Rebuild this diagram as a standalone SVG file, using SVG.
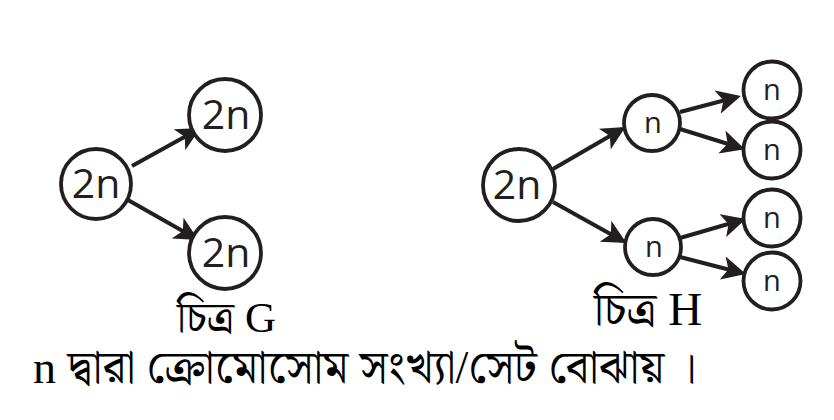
<svg xmlns="http://www.w3.org/2000/svg" width="834" height="420" viewBox="0 0 834 420">
<style>
.node circle{fill:#fff;stroke:#231f20;stroke-width:3.8}
.big{font-family:"Open Sans","Noto Sans","DejaVu Sans",sans-serif;font-size:41px;fill:#231f20;text-anchor:middle}
.sm{font-family:"Open Sans","Noto Sans","DejaVu Sans",sans-serif;font-size:29px;fill:#231f20;text-anchor:middle}
.edge line{stroke:#231f20;stroke-width:4}
.lbl{font-family:"Liberation Serif","Noto Serif Bengali","Noto Sans Bengali",serif;fill:#000}
</style>
<defs>
<marker id="ah" markerWidth="6" markerHeight="6" refX="5" refY="3" orient="auto" markerUnits="strokeWidth" viewBox="0 0 6 6">
<path d="M0,0 L6,3 L0,6 L1.5,3 z" fill="#231f20"/>
</marker>
</defs>
<rect width="834" height="420" fill="#fff"/>
<g id="connectors" class="edge">
<line x1="132" y1="166" x2="197" y2="130" marker-end="url(#ah)"/>
<line x1="128" y1="200" x2="195" y2="238" marker-end="url(#ah)"/>
<line x1="553" y1="169" x2="622" y2="129" marker-end="url(#ah)"/>
<line x1="553" y1="202" x2="623" y2="241" marker-end="url(#ah)"/>
<line x1="680" y1="112" x2="737" y2="97" marker-end="url(#ah)"/>
<line x1="680" y1="129" x2="741" y2="148" marker-end="url(#ah)"/>
<line x1="680" y1="238" x2="742" y2="220" marker-end="url(#ah)"/>
<line x1="680" y1="257" x2="742" y2="273" marker-end="url(#ah)"/>
</g>
<g id="g-center" class="node"><circle cx="96" cy="184" r="35"/><text class="big" x="96" y="198">2n</text></g>
<g id="g-top" class="node"><circle cx="225" cy="115" r="36"/><text class="big" x="226" y="129">2n</text></g>
<g id="g-bottom" class="node"><circle cx="225" cy="253" r="36"/><text class="big" x="226" y="267">2n</text></g>
<g id="h-root" class="node"><circle cx="519" cy="185" r="36"/><text class="big" x="517" y="199">2n</text></g>
<g id="h-n1" class="node"><circle cx="652" cy="123" r="28"/><text class="sm" x="653" y="133">n</text></g>
<g id="h-n2" class="node"><circle cx="653" cy="247" r="28"/><text class="sm" x="654" y="257">n</text></g>
<g id="h-n11" class="node"><circle cx="772" cy="90" r="28.5"/><text class="sm" x="772" y="100">n</text></g>
<g id="h-n12" class="node"><circle cx="772" cy="150" r="28.5"/><text class="sm" x="772" y="160">n</text></g>
<g id="h-n21" class="node"><circle cx="772" cy="218" r="28.5"/><text class="sm" x="772" y="228">n</text></g>
<g id="h-n22" class="node"><circle cx="772" cy="281" r="28.5"/><text class="sm" x="772" y="291">n</text></g>
<text class="lbl" x="177" y="332" font-size="43">চিত্র G</text>
<text class="lbl" x="594" y="325" font-size="47">চিত্র H</text>
<text class="lbl" x="33" y="383" font-size="46">n দ্বারা ক্রোমোসোম সংখ্যা/সেট বোঝায় ।</text>
</svg>
